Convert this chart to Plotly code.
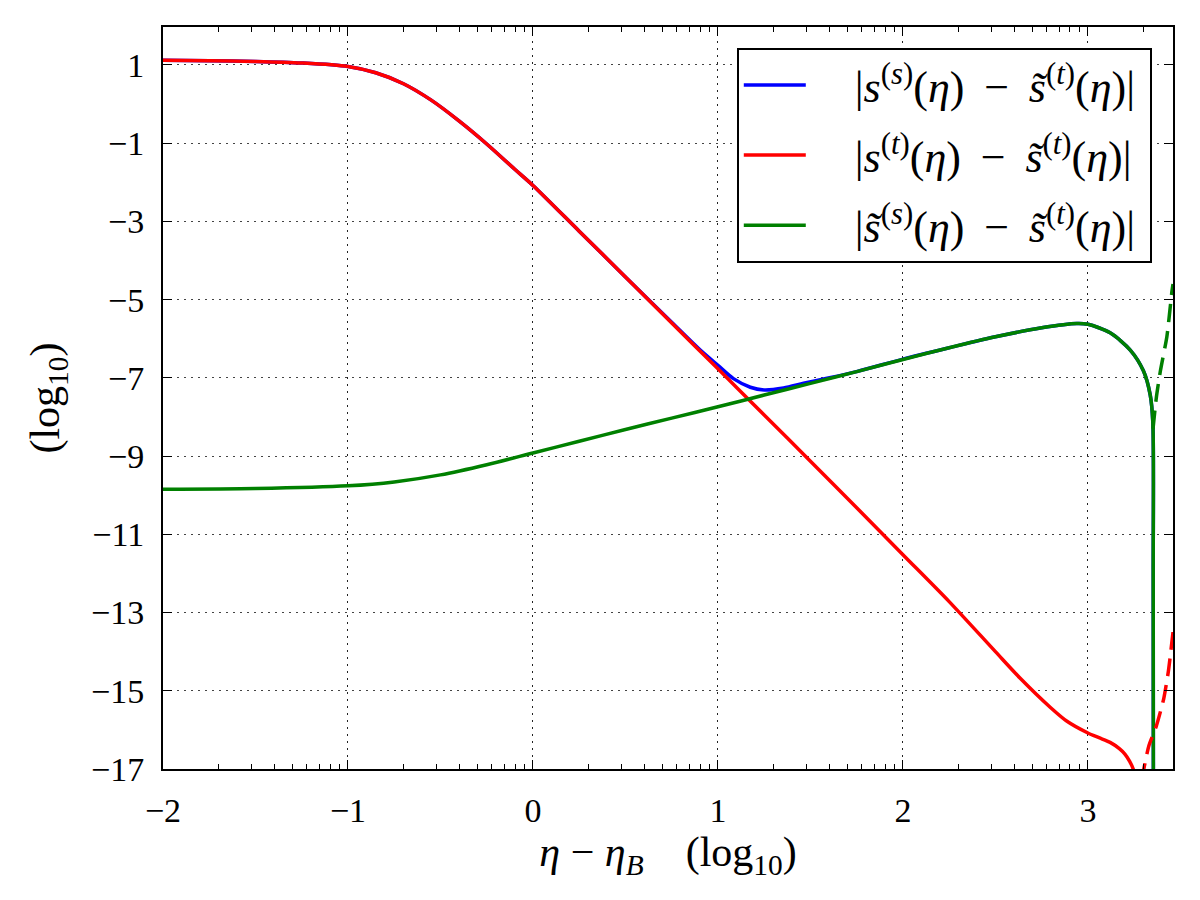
import numpy as np
import plotly.graph_objects as go

# ---- data (log10 scales) ----
red_x = [-2.0, -1.75, -1.5, -1.25, -1.0, -0.85, -0.7, -0.55, -0.4, -0.25, -0.1, 0.0, 0.25, 0.5,
         0.75, 1.0, 1.25, 1.5, 1.75, 2.0, 2.25, 2.5, 2.634, 2.796, 2.887, 3.0, 3.06, 3.12,
         3.17, 3.2, 3.225, 3.245, 3.26]
red_y = [1.12, 1.11, 1.09, 1.05, 0.96, 0.80, 0.52, 0.10, -0.43, -1.02, -1.66, -2.08, -3.25, -4.42,
         -5.6, -6.77, -7.95, -9.13, -10.32, -11.52, -12.72, -14.0, -14.68, -15.42, -15.78, -16.08,
         -16.2, -16.32, -16.48, -16.62, -16.8, -17.0, -17.3]

blue_x = [-2.0, -1.75, -1.5, -1.25, -1.0, -0.85, -0.7, -0.55, -0.4, -0.25, -0.1, 0.0, 0.25, 0.5,
          0.75, 0.9, 1.0, 1.084, 1.175, 1.25, 1.355, 1.463, 1.571, 1.75, 2.0, 2.25, 2.5, 2.75,
          2.94, 3.0, 3.12, 3.229, 3.30, 3.337, 3.351, 3.353, 3.354]
blue_y = [1.12, 1.11, 1.09, 1.05, 0.96, 0.80, 0.52, 0.10, -0.43, -1.02, -1.66, -2.08, -3.25, -4.42,
          -5.58, -6.27, -6.68, -7.02, -7.24, -7.31, -7.26, -7.14, -7.03, -6.84, -6.52, -6.23,
          -5.95, -5.72, -5.61, -5.63, -5.85, -6.29, -6.82, -7.44, -8.14, -12.0, -17.5]

green_x = [-2.0, -1.5, -1.0, -0.75, -0.5, -0.25, 0.0, 0.25, 0.5, 0.75, 1.0, 1.25, 1.5, 1.75,
           2.0, 2.25, 2.5, 2.75, 2.94, 3.0, 3.12, 3.229, 3.30, 3.337, 3.351, 3.353, 3.354]
green_y = [-9.85, -9.83, -9.76, -9.66, -9.48, -9.22, -8.92, -8.62, -8.32, -8.03, -7.74, -7.44,
           -7.14, -6.84, -6.53, -6.23, -5.95, -5.72, -5.61, -5.63, -5.85, -6.29, -6.82, -7.44,
           -8.14, -12.0, -17.5]

red_dash_x = [3.29, 3.30, 3.33, 3.37, 3.41, 3.435, 3.46]
red_dash_y = [-17.3, -17.05, -16.4, -15.9, -15.2, -14.5, -13.5]

green_dash_x = [3.352, 3.37, 3.392, 3.427, 3.454, 3.46]
green_dash_y = [-8.3, -7.5, -6.82, -5.94, -4.8, -4.6]

y_ticks = [1, -1, -3, -5, -7, -9, -11, -13, -15, -17]
x_ticks = [-2, -1, 0, 1, 2, 3]

M = "\u2009−\u2009"
label_blue = "|<i>s</i><sup>(<i>s</i>)</sup>(<i>η</i>) " + M + " <i>s̃</i><sup>(<i>t</i>)</sup>(<i>η</i>)|"
label_red = "|<i>s</i><sup>(<i>t</i>)</sup>(<i>η</i>) " + M + " <i>s̃</i><sup>(<i>t</i>)</sup>(<i>η</i>)|"
label_green = "|<i>s̃</i><sup>(<i>s</i>)</sup>(<i>η</i>) " + M + " <i>s̃</i><sup>(<i>t</i>)</sup>(<i>η</i>)|"

FONT = "Liberation Serif"
LW = 3.5
PAD = "\u2003"
TAIL = "\u2009"
DASH = "18px,9px"

fig = go.Figure()
fig.add_trace(go.Scatter(x=blue_x, y=blue_y, mode="lines", name=PAD + label_blue + TAIL,
                         line=dict(color="#0000ff", width=LW, shape="spline", smoothing=0.8),
                         legendgroup="b"))
fig.add_trace(go.Scatter(x=red_x, y=red_y, mode="lines", name=PAD + label_red + TAIL,
                         line=dict(color="#ff0000", width=LW, shape="spline", smoothing=0.8),
                         legendgroup="r"))
fig.add_trace(go.Scatter(x=green_x, y=green_y, mode="lines", name=PAD + label_green + TAIL,
                         line=dict(color="#008000", width=LW, shape="spline", smoothing=0.8),
                         legendgroup="g"))
fig.add_trace(go.Scatter(x=red_dash_x, y=red_dash_y, mode="lines", showlegend=False,
                         line=dict(color="#ff0000", width=LW, dash=DASH, shape="spline",
                                   smoothing=0.6)))
fig.add_trace(go.Scatter(x=green_dash_x, y=green_dash_y, mode="lines", showlegend=False,
                         line=dict(color="#008000", width=LW, dash=DASH, shape="spline",
                                   smoothing=0.6)))

minor_vals = [n + np.log10(k) for n in range(-2, 4) for k in range(2, 10) if n + np.log10(k) < 3.46]

fig.update_xaxes(range=[-2, 3.46], tickmode="array", tickvals=x_ticks,
                 ticktext=[("−" if v < 0 else "") + str(abs(v)) for v in x_ticks],
                 ticks="inside", ticklen=9, tickwidth=1, tickcolor="black",
                 showline=True, linewidth=2, linecolor="black", mirror="allticks",
                 showgrid=True, gridcolor="#222222", griddash="2px,5px", gridwidth=1,
                 zeroline=False, ticklabelstandoff=10,
                 minor=dict(tickmode="array", tickvals=minor_vals, ticks="inside",
                            ticklen=5, tickwidth=1, tickcolor="black", showgrid=False),
                 title=dict(text="<i>η</i> − <i>η<sub>B</sub></i>\u2003(log<sub>10</sub>)",
                            font=dict(size=42, family=FONT, color="black"), standoff=2),
                 tickfont=dict(size=34, family=FONT, color="black"))
fig.update_yaxes(range=[-17, 1.97], tickmode="array", tickvals=y_ticks,
                 ticktext=[("−" if v < 0 else "") + str(abs(v)) for v in y_ticks],
                 ticks="inside", ticklen=9, tickwidth=1, tickcolor="black",
                 showline=True, linewidth=2, linecolor="black", mirror="allticks",
                 showgrid=True, gridcolor="#444444", griddash="2px,5px", gridwidth=1,
                 zeroline=False, ticklabelstandoff=10,
                 title=dict(text="(log<sub>10</sub>)",
                            font=dict(size=42, family=FONT, color="black"), standoff=18),
                 tickfont=dict(size=34, family=FONT, color="black"))

fig.update_layout(
    width=1200, height=900,
    margin=dict(l=163, r=27, t=27, b=131),
    plot_bgcolor="white", paper_bgcolor="white",
    font=dict(family=FONT, color="black"),
    showlegend=True,
    legend=dict(x=0.979, y=0.972, xanchor="right", yanchor="top",
                bgcolor="white", bordercolor="black", borderwidth=2,
                font=dict(size=44, family=FONT, color="black"),
                tracegroupgap=10, itemwidth=62),
)

fig.write_html("out.html")
